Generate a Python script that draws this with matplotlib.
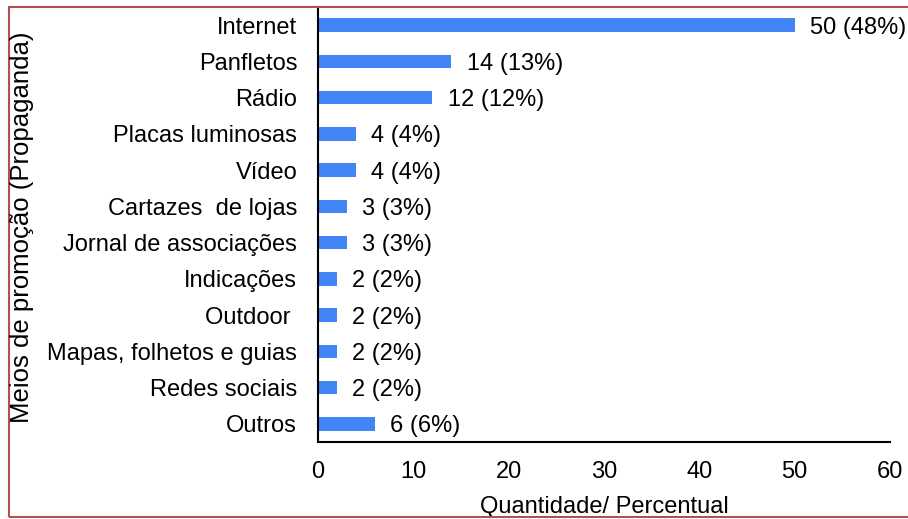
import matplotlib

matplotlib.use("Agg")
import matplotlib.pyplot as plt
from matplotlib.patches import Rectangle

categories = [
    "Internet", "Panfletos", "Rádio", "Placas luminosas", "Vídeo",
    "Cartazes  de lojas", "Jornal de associações", "Indicações", "Outdoor ",
    "Mapas, folhetos e guias", "Redes sociais", "Outros",
]
counts = [50, 14, 12, 4, 4, 3, 3, 2, 2, 2, 2, 6]
percents = [48, 13, 12, 4, 4, 3, 3, 2, 2, 2, 2, 6]
xticks = [0, 10, 20, 30, 40, 50, 60]

plt.rcParams["font.family"] = ["Liberation Sans", "DejaVu Sans"]
fs = 17

fig = plt.figure(figsize=(9.08, 5.19), dpi=100)
ax = fig.add_axes([318 / 908, 1 - 442 / 519, (890 - 318) / 908, (442 - 7) / 519])

ypos = list(range(len(categories)))
ax.barh(ypos, counts, height=0.37, color="#4285f4")
for y, c, p in zip(ypos, counts, percents):
    ax.text(c + 1.6, y, f"{c} ({p}%)", va="center_baseline", ha="left", fontsize=fs)

ax.set_ylim(len(categories) - 0.5, -0.5)
ax.set_xlim(0, 60)
ax.set_xticks(xticks)
ax.set_yticks(ypos, labels=categories)
ax.tick_params(axis="both", length=0, labelsize=fs)
ax.tick_params(axis="y", pad=15)
ax.tick_params(axis="x", pad=14)
for side in ["top", "right"]:
    ax.spines[side].set_visible(False)
for side in ["left", "bottom"]:
    ax.spines[side].set_color("black")
    ax.spines[side].set_linewidth(1.5)

ax.set_xlabel("Quantidade/ Percentual", fontsize=fs, labelpad=9)
fig.text(22 / 908, 1 - 227 / 519, "Meios de promoção (Propaganda)", rotation=90,
         va="center", ha="center", fontsize=18.5)

fig.patches.append(Rectangle((9 / 908, 2 / 519), 1.0, 510 / 519, transform=fig.transFigure,
                             fill=False, edgecolor="#b05050", linewidth=1.5))

fig.savefig("out.png", dpi=100)
